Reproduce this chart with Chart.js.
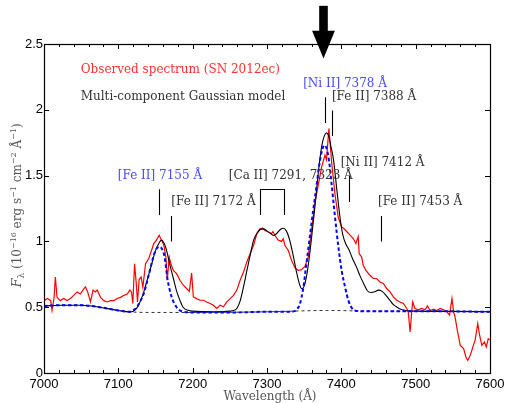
<!DOCTYPE html>
<html><head><meta charset="utf-8">
<script src="https://cdn.jsdelivr.net/npm/chart.js@4.4.1/dist/chart.umd.min.js"></script>
<style>html,body{margin:0;padding:0;background:#fff;overflow:hidden}</style>
</head><body>
<canvas id="c" width="505" height="403"></canvas>
<script>
// ---- Data ----
const obsWave = [7000,7004.5,7009,7010.8,7013.5,7015.3,7017.5,7022,7026.5,7031,7035.5,7040,7044.4,7049,7053.5,7055.7,7058.8,7062.5,7066,7069,7071.6,7076,7080.5,7085,7089.5,7094,7098.5,7103,7107.5,7112,7115.5,7117.7,7119.5,7121.8,7124,7125.8,7128,7130.7,7133,7136.6,7141,7145.5,7147.8,7151.3,7154.9,7158,7161.3,7164,7165.8,7168.5,7170.7,7173.9,7178.4,7182.9,7187.4,7191.9,7195.5,7198.6,7200.9,7205.4,7209.9,7214.4,7218.9,7223.4,7227.9,7232.4,7236.9,7241.4,7245.9,7250.4,7254.9,7259.4,7263.9,7268.4,7272.9,7277.4,7281.9,7286.4,7290.5,7294,7297,7301.6,7306,7308,7310.5,7315,7319.5,7322,7324,7328.5,7333,7337.5,7342,7346.4,7351,7355.4,7359.9,7364.4,7369,7373.5,7378,7380,7383.3,7387,7391.4,7395.9,7400.4,7403,7407.2,7411.5,7416,7419.6,7422.7,7424,7427.2,7429.5,7433,7438.5,7443,7447.5,7452,7456.5,7461,7465.5,7470,7474.5,7479,7483.5,7488,7490,7492.5,7494.7,7496,7499,7503.8,7508,7512.7,7515.8,7519.5,7524,7528.5,7533,7537.5,7542,7545.6,7548.8,7551,7553,7556,7560,7564.5,7567.6,7570,7573.5,7577,7580,7583.5,7586,7589,7592.5,7595,7597.6,7600];
const obsFlux = [0.55,0.566,0.55,0.477,0.57,0.73,0.575,0.55,0.566,0.55,0.566,0.59,0.616,0.60,0.64,0.655,0.616,0.54,0.63,0.616,0.63,0.575,0.55,0.54,0.55,0.55,0.566,0.575,0.59,0.60,0.63,0.616,0.528,0.83,0.69,0.54,0.71,0.73,0.65,0.83,0.87,0.946,0.985,1.01,1.047,1.01,0.97,0.88,0.705,0.88,0.83,0.78,0.755,0.705,0.667,0.642,0.62,0.76,0.578,0.565,0.553,0.553,0.54,0.528,0.515,0.49,0.515,0.503,0.54,0.565,0.59,0.63,0.705,0.768,0.844,0.908,0.97,1.06,1.095,1.10,1.085,1.072,1.06,1.075,1.047,1.01,1.0,1.02,0.97,0.933,0.857,0.80,0.78,0.785,0.81,0.88,1.085,1.29,1.43,1.567,1.656,1.62,1.858,1.60,1.36,1.18,1.11,1.10,1.075,1.05,1.022,0.984,1.036,0.908,0.883,0.819,0.78,0.743,0.718,0.718,0.692,0.68,0.642,0.616,0.578,0.553,0.54,0.528,0.49,0.465,0.312,0.465,0.54,0.49,0.48,0.49,0.48,0.51,0.475,0.485,0.475,0.49,0.48,0.465,0.44,0.566,0.465,0.427,0.325,0.21,0.186,0.122,0.097,0.135,0.198,0.25,0.376,0.287,0.21,0.236,0.198,0.26,0.25];

const modelWave = [7000,7025,7050,7075,7100,7115,7120,7125,7130,7135,7140,7145,7150,7155,7158,7162,7165,7169,7174,7178,7183,7187,7194,7200,7230,7250,7255,7259.4,7264,7268.4,7273,7277.4,7282,7286.4,7291,7295,7300,7305,7309,7313,7318,7322,7326,7330,7335,7340,7344,7347,7350,7353,7356,7360,7364.4,7369,7373.5,7377,7380,7383,7386,7389.5,7394,7398.5,7402,7406,7410,7415,7420,7425,7430,7435,7440,7445,7450,7455,7460,7465,7470,7475,7480,7485,7490,7500,7550,7600];
const modelFlux = [0.51,0.515,0.515,0.50,0.475,0.465,0.47,0.495,0.55,0.63,0.73,0.83,0.93,0.99,1.01,0.98,0.93,0.83,0.72,0.63,0.55,0.50,0.476,0.47,0.465,0.47,0.475,0.49,0.55,0.654,0.78,0.895,1.01,1.06,1.09,1.095,1.08,1.06,1.045,1.06,1.09,1.10,1.08,1.02,0.90,0.76,0.67,0.64,0.66,0.73,0.84,1.03,1.26,1.52,1.72,1.80,1.825,1.80,1.72,1.62,1.39,1.17,1.05,0.98,0.94,0.87,0.81,0.74,0.68,0.625,0.612,0.618,0.63,0.62,0.59,0.555,0.52,0.50,0.485,0.477,0.472,0.47,0.468,0.465];

const gaussWave = [7000,7025,7050,7075,7100,7115,7121,7125,7129,7134,7138,7142,7146,7150,7155,7159,7162.6,7166,7171.6,7178.4,7185,7200,7250,7300,7330,7337,7341,7344,7348.6,7353,7357.6,7362,7366.6,7370,7374,7377,7380,7383.5,7387,7391.4,7396,7400.4,7405,7409.4,7414,7420,7430,7500,7600];
const gaussFlux = [0.51,0.515,0.515,0.50,0.475,0.465,0.48,0.50,0.54,0.60,0.68,0.77,0.86,0.93,0.96,0.94,0.87,0.72,0.58,0.50,0.47,0.46,0.46,0.465,0.465,0.47,0.49,0.52,0.64,0.83,1.034,1.23,1.42,1.57,1.69,1.73,1.71,1.61,1.43,1.19,0.96,0.78,0.654,0.553,0.495,0.472,0.47,0.47,0.465];

const contWave = [7000,7025,7050,7075,7100,7115,7150,7200,7300,7380,7450,7500,7600];
const contFlux = [0.51,0.515,0.515,0.50,0.475,0.465,0.46,0.46,0.465,0.475,0.47,0.47,0.465];

const xTickValues = [7000,7100,7200,7300,7400,7500,7600];
const yTickValues = [0,0.5,1,1.5,2,2.5];

// line labels: text, text centre (wavelength, flux), marker line (wavelength, from, to)
const lineLabels = ["[Fe II] 7155 Å","[Fe II] 7172 Å","[Ca II] 7291, 7323 Å","[Ni II] 7378 Å","[Fe II] 7388 Å","[Ni II] 7412 Å","[Fe II] 7453 Å"];
const labelX = [7156,7228,7332,7405,7444,7455.5,7506];
const labelY = [1.50,1.30,1.50,2.20,2.10,1.60,1.30];
const labelBlue = [true,false,false,true,false,false,false];
const markX = [7154.8,7171.5,null,7377.9,7387.7,7410.6,7452.8];
const markY0 = [1.20,1.0,null,1.90,1.80,1.30,1.0];
const markY1 = [1.396,1.193,null,2.096,1.995,1.497,1.193];
const caBracketX = [7290.8,7322.7];
const caBracketY = [1.20,1.396];
const legendTexts = ["Observed spectrum (SN 2012ec)","Multi-component Gaussian model"];
const legendX = 7049.4;
const legendY = [2.30,2.10];
const arrowX = 7376;
const arrowY = [2.79,2.60,2.39]; // shaft top, head base, tip

const toXY = (w,f)=>w.map((x,i)=>({x:x,y:f[i]}));

const SERIF = "'DejaVu Serif', serif";

const decor = {
  id:'decor',
  afterDatasetsDraw(chart){
    const ctx = chart.ctx, xs = chart.scales.x, ys = chart.scales.y, ca = chart.chartArea;
    ctx.save();
    // frame
    ctx.strokeStyle = '#000'; ctx.lineWidth = 1.2;
    ctx.strokeRect(Math.round(ca.left)+0.5, Math.round(ca.top)+0.5, Math.round(ca.right-ca.left), Math.round(ca.bottom-ca.top));
    ctx.lineWidth = 1;
    ctx.beginPath();
    for (let v = 7000; v <= 7600; v += 20) {
      const px = Math.round(xs.getPixelForValue(v)) + 0.5;
      const len = (v % 100 === 0) ? 5 : 3;
      ctx.moveTo(px, ca.bottom); ctx.lineTo(px, ca.bottom - len);
      ctx.moveTo(px, ca.top); ctx.lineTo(px, ca.top + len);
    }
    yTickValues.forEach(v => {
      const py = Math.round(ys.getPixelForValue(v)) + 0.5;
      ctx.moveTo(ca.left, py); ctx.lineTo(ca.left + 5, py);
      ctx.moveTo(ca.right, py); ctx.lineTo(ca.right - 5, py);
    });
    ctx.stroke();
    ctx.restore();
  },
  afterDraw(chart){
    const ctx = chart.ctx, xs = chart.scales.x, ys = chart.scales.y, ca = chart.chartArea;
    ctx.save();
    // marker lines
    ctx.strokeStyle = '#000'; ctx.lineWidth = 1.1;
    ctx.beginPath();
    markX.forEach((m,i)=>{
      if (m === null) return;
      const px = Math.round(xs.getPixelForValue(m)) + 0.5;
      ctx.moveTo(px, ys.getPixelForValue(markY0[i]));
      ctx.lineTo(px, ys.getPixelForValue(markY1[i]));
    });
    // Ca bracket
    const bx0 = Math.round(xs.getPixelForValue(caBracketX[0]))+0.5, bx1 = Math.round(xs.getPixelForValue(caBracketX[1]))+0.5;
    const by0 = ys.getPixelForValue(caBracketY[0]), by1 = Math.round(ys.getPixelForValue(caBracketY[1]))+0.5;
    ctx.moveTo(bx0, by0); ctx.lineTo(bx0, by1); ctx.lineTo(bx1, by1); ctx.lineTo(bx1, by0);
    ctx.stroke();
    // labels
    ctx.font = "12px " + SERIF;
    ctx.textBaseline = 'middle';
    ctx.textAlign = 'center';
    lineLabels.forEach((t,i)=>{
      ctx.fillStyle = labelBlue[i] ? '#4a4aff' : '#333';
      ctx.fillText(t, xs.getPixelForValue(labelX[i]), ys.getPixelForValue(labelY[i]));
    });
    ctx.textAlign = 'left';
    ctx.fillStyle = '#ff3030';
    ctx.fillText(legendTexts[0], xs.getPixelForValue(legendX), ys.getPixelForValue(legendY[0]));
    ctx.fillStyle = '#333';
    ctx.fillText(legendTexts[1], xs.getPixelForValue(legendX), ys.getPixelForValue(legendY[1]));
    // arrow
    const ax = xs.getPixelForValue(arrowX);
    const yTop = ys.getPixelForValue(arrowY[0]), yBase = ys.getPixelForValue(arrowY[1]), yTip = ys.getPixelForValue(arrowY[2]);
    ctx.fillStyle = '#000';
    ctx.fillRect(ax - 4.3, yTop, 8.6, yBase - yTop + 1);
    ctx.beginPath();
    ctx.moveTo(ax - 11.4, yBase); ctx.lineTo(ax + 11.4, yBase); ctx.lineTo(ax, yTip); ctx.closePath();
    ctx.fill();
    // x axis title
    ctx.fillStyle = '#555';
    ctx.textAlign = 'center';
    ctx.textBaseline = 'middle';
    ctx.font = "12px " + SERIF;
    ctx.fillText("Wavelength (Å)", (ca.left + ca.right)/2 + 3, 397);
    // y axis title with super/subscripts
    const segs = [
      {t:'F', f:"italic 13px "+SERIF, dy:0},
      {t:'λ', f:"9px "+SERIF, dy:3},
      {t:' (10', f:"12px "+SERIF, dy:0},
      {t:'−16', f:"8px "+SERIF, dy:-5},
      {t:' erg s', f:"12px "+SERIF, dy:0},
      {t:'−1', f:"8px "+SERIF, dy:-5},
      {t:' cm', f:"12px "+SERIF, dy:0},
      {t:'−2', f:"8px "+SERIF, dy:-5},
      {t:' Å', f:"12px "+SERIF, dy:0},
      {t:'−1', f:"8px "+SERIF, dy:-5},
      {t:')', f:"12px "+SERIF, dy:0}
    ];
    let total = 0;
    segs.forEach(s=>{ ctx.font = s.f; s.w = ctx.measureText(s.t).width; total += s.w; });
    ctx.translate(17, (ca.top + ca.bottom)/2 - 3);
    ctx.rotate(-Math.PI/2);
    ctx.textAlign = 'left';
    ctx.textBaseline = 'alphabetic';
    let cx = -total/2;
    segs.forEach(s=>{ ctx.font = s.f; ctx.fillText(s.t, cx, 4 + s.dy); cx += s.w; });
    ctx.restore();
  }
};

new Chart(document.getElementById('c'), {
  type: 'line',
  data: {
    datasets: [
      {label:'Gaussian components', data: toXY(gaussWave, gaussFlux), borderColor:'#0000ff', borderWidth:2, borderDash:[3.5,2.5], pointRadius:0, fill:false, cubicInterpolationMode:'monotone'},
      {label:'Continuum', data: toXY(contWave, contFlux), borderColor:'#333', borderWidth:1, borderDash:[3,3], pointRadius:0, fill:false, cubicInterpolationMode:'monotone'},
      {label:'Multi-component Gaussian model', data: toXY(modelWave, modelFlux), borderColor:'#000', borderWidth:1.1, pointRadius:0, fill:false, cubicInterpolationMode:'monotone'},
      {label:'Observed spectrum (SN 2012ec)', data: toXY(obsWave, obsFlux), borderColor:'#ff0000', borderWidth:1.2, pointRadius:0, fill:false, tension:0}
    ]
  },
  options: {
    responsive:false, animation:false,
    layout:{padding:{top:44, right:15, left:0, bottom:0}},
    plugins:{legend:{display:false}, tooltip:{enabled:false}},
    scales:{
      x:{type:'linear', min:7000, max:7600,
         afterBuildTicks: s => { s.ticks = xTickValues.map(v=>({value:v})); },
         grid:{display:false, drawTicks:false}, border:{display:false},
         ticks:{padding:4, color:'#000', font:{family:"'Liberation Sans', Arial, sans-serif", size:13}, callback:v=>String(v), maxRotation:0, autoSkip:false},
         afterFit: s => { s.height = 30; s.paddingLeft = 0; s.paddingRight = 0; }},
      y:{type:'linear', min:0, max:2.5,
         afterBuildTicks: s => { s.ticks = yTickValues.map(v=>({value:v})); },
         grid:{display:false, drawTicks:false}, border:{display:false},
         ticks:{padding:1, color:'#000', font:{family:"'Liberation Sans', Arial, sans-serif", size:13}, callback:v=>String(v)},
         afterFit: s => { s.width = 44; s.paddingTop = 0; s.paddingBottom = 0; }}
    }
  },
  plugins:[decor]
});
</script>
</body></html>
